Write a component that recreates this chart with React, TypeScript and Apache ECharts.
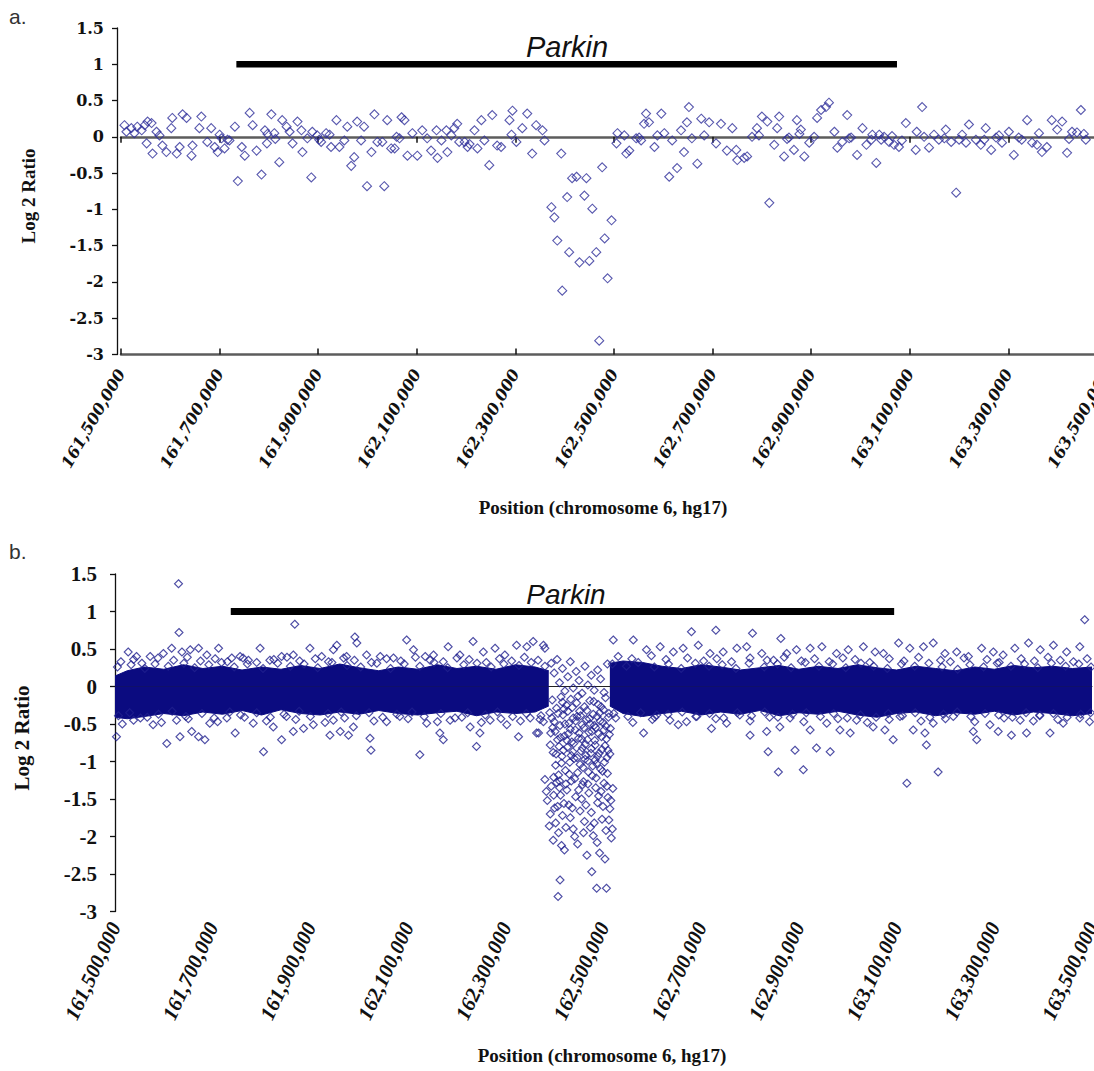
import React, { useEffect, useRef } from "react";
import * as echarts from "echarts";

// Positions are in kb on chromosome 6 (hg17); values are log2 ratios.
const X_MIN = 161500;
const X_MAX = 163500;
const X_STEP = 200;
const Y_MIN = -3;
const Y_MAX = 1.5;
const Y_STEP = 0.5;

// Parkin gene span as drawn in each panel
const parkinSpanA = [161734, 163074];
const parkinSpanB = [161737, 163095];
const parkinLevel = 1.0;

// Panel a probes
const panelAPoints: [number, number][] = [
  [161507,0.16],[161511,0.07],[161521,0.12],[161527,0.05],[161533,0.14],[161542,0.09],[161548,0.16],[161554,0.21],[161562,0.19],[161552,-0.09],[161564,-0.23],[161572,0.07],[161578,0.02],[161584,-0.12],[161592,-0.21],[161602,0.12],[161604,0.26],[161613,-0.23],[161619,-0.14],[161625,0.31],[161633,0.26],[161643,-0.26],[161645,-0.12],[161659,0.12],[161663,0.28],[161675,-0.07],[161683,0.12],[161690,-0.14],[161696,-0.21],[161704,-0.02],[161710,-0.16],[161720,-0.05],[161731,0.14],[161737,-0.61],[161745,-0.14],[161751,-0.26],[161761,0.33],[161767,0.16],[161775,-0.19],[161785,-0.52],[161792,0.09],[161796,-0.09],[161805,0.31],[161811,0.05],[161821,-0.35],[161827,0.23],[161836,0.14],[161842,0.07],[161848,-0.09],[161858,0.21],[161866,0.09],[161868,-0.21],[161878,-0.02],[161886,-0.56],[161888,0.07],[161898,0.02],[161906,-0.07],[161916,0.05],[161926,-0.14],[161937,0.23],[161943,-0.14],[161953,-0.05],[161959,0.14],[161967,-0.40],[161973,-0.28],[161979,0.21],[161987,-0.05],[161993,0.14],[161999,-0.68],[162008,-0.21],[162014,0.31],[162020,-0.07],[162034,-0.68],[162040,0.23],[162048,-0.16],[162059,0.00],
  [162030,-0.07],[162055,-0.16],[162069,0.27],[162075,0.23],[162081,-0.26],[162091,0.05],[162101,-0.26],[162111,0.09],[162121,-0.02],[162129,-0.19],[162140,0.09],[162142,-0.29],[162150,-0.05],[162160,0.09],[162162,-0.21],[162176,0.12],[162182,0.18],[162186,-0.07],[162197,-0.07],[162203,-0.14],[162217,0.09],[162223,-0.16],[162231,0.23],[162237,-0.05],[162247,-0.39],[162253,0.30],[162263,-0.12],[162271,-0.14],[162288,0.23],[162294,0.36],[162302,-0.07],[162314,0.12],[162324,0.32],[162334,-0.23],[162342,0.16],[162355,0.09],[162359,-0.05],[162393,-0.23],[162373,-0.97],[162379,-1.11],[162385,-1.43],[162395,-2.12],[162405,-0.83],[162409,-1.59],[162415,-0.57],[162424,-0.55],[162430,-1.73],[162440,-0.81],[162444,-0.57],[162450,-1.71],[162456,-0.99],[162464,-1.59],[162470,-2.81],[162476,-0.42],[162481,-1.40],[162487,-1.95],[162495,-1.15],[162505,-0.09],[162507,0.05],[162521,0.02],[162525,-0.23],[162531,-0.19],[162545,-0.02],[162555,-0.05],[162561,0.18],[162565,0.32],[162571,0.20],[162582,-0.14],[162588,0.02],[162596,0.32],[162602,0.05],[162612,-0.55],[162618,-0.05],[162628,-0.43],[162636,0.09],[162642,-0.21],[162648,0.20],[162652,0.41],[162658,-0.02],[162669,-0.37],[162677,0.25],[162683,0.02],[162693,0.20],[162707,-0.09],[162717,0.18],[162729,-0.19],[162740,0.12],[162750,-0.32],
  [162748,-0.18],[162764,-0.29],[162770,-0.27],[162780,0.00],[162790,0.12],[162800,0.28],[162811,0.21],[162815,-0.91],[162825,-0.11],[162831,0.12],[162835,0.28],[162845,-0.27],[162855,-0.01],[162865,-0.18],[162871,0.23],[162879,0.10],[162886,-0.27],[162896,-0.08],[162906,0.00],[162912,0.26],[162920,0.37],[162930,0.41],[162936,0.47],[162947,0.07],[162953,-0.15],[162963,-0.07],[162973,0.30],[162981,-0.01],[162993,-0.25],[163004,0.12],[163012,-0.11],[163022,-0.04],[163032,-0.36],[163038,0.03],[163048,0.00],[163058,-0.07],[163068,-0.11],[163078,-0.14],[163092,0.19],[163112,-0.18],[163114,0.07],[163125,0.41],[163139,-0.15],[163149,0.03],[163159,-0.04],[163173,0.10],[163184,-0.07],[163194,-0.77],[163200,-0.04],[163214,-0.08],[163220,0.17],[163234,-0.04],[163244,-0.11],[163254,0.12],[163265,-0.18],[163275,-0.01],[163287,-0.08],[163301,0.07],[163311,-0.25],[163321,-0.01],[163327,-0.04],[163338,0.23],[163348,-0.08],[163358,-0.11],[163368,-0.21],[163378,-0.14],[163388,0.23],[163399,0.10],[163409,0.21],[163419,-0.22],[163429,0.07],[163439,0.06],[163447,0.37],[163457,-0.04],
  [162794,0.02],[162851,-0.03],[162876,0.04],[162977,-0.02],[163024,0.03],[163042,-0.04],[163064,0.01],[163084,-0.05],[163129,0.00],[163170,-0.02],[163206,0.03],[163251,-0.04],[163281,0.02],[163362,0.05],[163423,-0.03],[163453,0.04],
  [161700,0.03],[161716,-0.04],[161797,0.04],[161813,-0.03],[161902,-0.04],[161923,0.03],[162065,-0.02],[162170,0.02],[162207,-0.10],[162292,0.03],[162551,-0.01]
];

// Panel b: dense core envelope (left and right of the deletion)
const bandLeftPos = [161500,161525,161560,161600,161640,161680,161720,161760,161800,161840,161880,161920,161960,162000,162040,162080,162120,162160,162200,162240,162280,162320,162360,162388];
const bandLeftTop = [0.14,0.21,0.26,0.23,0.29,0.24,0.27,0.22,0.26,0.23,0.28,0.24,0.30,0.25,0.21,0.26,0.23,0.29,0.24,0.27,0.23,0.29,0.26,0.21];
const bandLeftBottom = [-0.41,-0.43,-0.40,-0.36,-0.39,-0.34,-0.37,-0.32,-0.38,-0.31,-0.36,-0.38,-0.34,-0.37,-0.32,-0.36,-0.38,-0.35,-0.33,-0.39,-0.34,-0.36,-0.34,-0.26];
const bandRightPos = [162513,162540,162580,162620,162660,162700,162740,162780,162820,162860,162900,162940,162980,163020,163060,163100,163140,163180,163220,163260,163300,163340,163380,163420,163460,163500];
const bandRightTop = [0.31,0.34,0.32,0.27,0.24,0.29,0.26,0.22,0.25,0.28,0.23,0.27,0.24,0.29,0.25,0.22,0.27,0.24,0.21,0.26,0.23,0.28,0.25,0.27,0.24,0.26];
const bandRightBottom = [-0.26,-0.36,-0.40,-0.36,-0.33,-0.38,-0.34,-0.37,-0.32,-0.39,-0.35,-0.37,-0.33,-0.38,-0.41,-0.36,-0.34,-0.39,-0.35,-0.37,-0.33,-0.38,-0.34,-0.36,-0.39,-0.36];

// Panel b: individually visible probes (fringe, outliers, deletion)
const panelBFringeLeft: [number, number][] = [
  [161630,1.37],[161631,0.72],[161868,0.83],
  [161527,0.46],[161544,0.40],[161572,0.40],[161599,0.44],[161616,0.51],[161637,0.46],[161654,0.49],[161671,0.51],[161688,0.42],[161712,0.51],[161739,0.38],[161756,0.40],[161773,0.35],[161797,0.51],[161817,0.35],[161841,0.40],[161865,0.42],[161899,0.51],[161923,0.40],[161947,0.49],[161954,0.55],[161974,0.40],[161991,0.66],[161995,0.58],[162015,0.42],[162043,0.40],[162070,0.38],[162097,0.62],[162111,0.49],[162135,0.40],[162152,0.42],[162182,0.53],[162206,0.42],[162233,0.60],[162254,0.46],[162278,0.51],[162298,0.42],[162322,0.55],[162343,0.53],[162356,0.60],[162380,0.51],
  [161503,-0.67],[161606,-0.76],[161633,-0.67],[161657,-0.60],[161671,-0.67],[161684,-0.71],[161746,-0.62],[161804,-0.87],[161841,-0.71],[161865,-0.60],[161886,-0.56],[161940,-0.65],[161961,-0.60],[161978,-0.65],[162022,-0.69],[162024,-0.85],[162124,-0.91],[162165,-0.62],[162172,-0.71],[162240,-0.80],[162247,-0.62],[162326,-0.67],[162367,-0.62],
  [161538,-0.45],[161578,-0.51],[161626,-0.45],[161694,-0.49],[161729,-0.42],[161783,-0.49],[161824,-0.54],[161851,-0.40],[161906,-0.51],[161947,-0.45],[161988,-0.54],[162056,-0.47],[162083,-0.40],[162138,-0.49],[162186,-0.45],[162227,-0.54],[162268,-0.45],[162302,-0.51],[162350,-0.42],[162377,-0.47],
  [161515,-0.50],[161552,-0.42],[161595,-0.48],[161650,-0.43],[161710,-0.47],[161765,-0.41],[161810,-0.46],[161870,-0.44],[161930,-0.48],[161970,-0.42],[162030,-0.46],[162100,-0.43],[162160,-0.47],[162210,-0.41],[162250,-0.48],[162290,-0.43],[162330,-0.46],[162370,-0.44],
  [161512,0.33],[161538,0.36],[161555,0.31],[161588,0.38],[161620,0.35],[161648,0.39],[161675,0.34],[161705,0.37],[161730,0.33],[161762,0.38],[161790,0.32],[161825,0.36],[161852,0.39],[161878,0.34],[161910,0.37],[161937,0.33],[161968,0.38],[161990,0.35],[162025,0.32],[162056,0.37],[162085,0.34],[162115,0.39],[162145,0.35],[162172,0.33],[162200,0.38],[162225,0.36],[162260,0.32],[162287,0.37],[162312,0.34],[162338,0.39],[162366,0.35]
];

const panelBEdgeLeft: [number, number][] = [
  [161505,0.26],[161533,0.29],[161561,0.24],[161582,0.30],[161609,0.27],[161641,0.31],[161663,0.25],[161692,0.29],[161718,0.32],[161744,0.26],[161771,0.30],[161803,0.24],[161833,0.31],[161859,0.27],[161887,0.30],[161915,0.25],[161944,0.32],[161975,0.28],[162003,0.26],[162036,0.31],[162064,0.24],[162092,0.30],[162124,0.27],[162153,0.32],[162181,0.25],[162214,0.29],[162241,0.31],[162270,0.26],[162296,0.30],[162327,0.28],[162352,0.32],[162380,0.27],
  [161507,-0.39],[161530,-0.35],[161566,-0.41],[161589,-0.37],[161617,-0.33],[161645,-0.40],[161678,-0.36],[161703,-0.42],[161735,-0.34],[161757,-0.38],[161790,-0.35],[161818,-0.41],[161846,-0.37],[161877,-0.33],[161900,-0.40],[161936,-0.36],[161963,-0.34],[161994,-0.39],[162020,-0.35],[162048,-0.41],[162077,-0.37],[162108,-0.34],[162133,-0.40],[162167,-0.36],[162196,-0.42],[162222,-0.35],[162258,-0.38],[162283,-0.34],[162314,-0.40],[162342,-0.36],[162372,-0.39]
];

const panelBDeletion: [number, number][] = [
  [162393,0.31],[162399,0.18],[162405,0.36],[162410,0.05],[162416,0.24],[162421,-0.06],[162427,0.13],[162432,0.33],[162438,-0.02],[162444,0.20],[162450,0.08],[162456,-0.09],[162462,0.27],[162468,0.02],[162475,0.15],[162481,-0.05],[162488,0.22],[162494,0.10],[162501,-0.08],[162508,0.30],
  [162390,-0.35],[162392,-0.62],[162395,-0.18],[162397,-0.88],[162399,-0.47],[162402,-1.05],[162404,-0.29],[162406,-0.71],[162408,-1.18],[162411,-0.52],[162413,-0.14],[162415,-0.93],[162417,-0.38],[162420,-0.66],[162422,-1.12],[162424,-0.25],[162426,-0.81],[162429,-0.49],[162431,-1.01],[162433,-0.17],[162435,-0.74],[162438,-0.42],[162440,-0.96],[162442,-0.58],[162445,-0.22],[162447,-1.15],[162449,-0.69],[162451,-0.33],[162454,-0.86],[162456,-0.51],[162458,-1.08],[162461,-0.27],[162463,-0.77],[162465,-0.44],[162468,-0.99],[162470,-0.61],[162472,-0.19],[162475,-0.83],[162477,-1.19],[162479,-0.37],[162482,-0.72],[162484,-0.55],[162486,-1.03],[162489,-0.24],[162491,-0.89],[162493,-0.46],[162496,-0.67],[162498,-1.13],[162500,-0.31],[162503,-0.79],[162505,-0.53],[162507,-0.95],[162510,-0.41],[162512,-0.64],[162396,-0.55],[162409,-0.80],[162419,-0.30],[162428,-0.63],[162437,-0.87],[162446,-0.40],[162455,-0.70],[162464,-0.92],[162473,-0.50],[162483,-0.98],[162492,-0.35],[162501,-0.58],[162509,-0.85],
  [162391,-0.78],[162394,-0.42],[162398,-1.21],[162401,-0.60],[162403,-0.90],[162407,-0.36],[162410,-1.26],[162412,-0.68],[162414,-1.02],[162416,-0.21],[162418,-0.85],[162421,-0.50],[162423,-1.30],[162425,-0.72],[162427,-0.33],[162430,-1.17],[162432,-0.57],[162434,-0.92],[162436,-0.28],[162439,-0.76],[162441,-1.23],[162443,-0.46],[162446,-0.95],[162448,-0.13],[162450,-0.62],[162452,-1.04],[162453,-0.39],[162457,-0.82],[162459,-1.27],[162460,-0.55],[162462,-0.97],[162466,-0.32],[162467,-0.71],[162469,-1.14],[162471,-0.43],[162474,-0.89],[162476,-0.60],[162478,-1.06],[162480,-0.20],[162481,-0.52],[162483,-0.78],[162485,-1.22],[162487,-0.40],[162488,-0.93],[162490,-0.63],[162494,-1.10],[162495,-0.27],[162497,-0.84],[162499,-0.48],[162502,-1.01],[162504,-0.15],[162506,-0.70],[162508,-1.16],[162511,-0.36],[162513,-0.90],[162514,-0.56],
  [162380,-1.24],[162385,-1.52],[162389,-1.86],[162393,-1.33],[162397,-2.05],[162400,-1.62],[162404,-1.28],[162408,-1.95],[162412,-1.45],[162416,-1.72],[162420,-2.18],[162425,-1.38],[162429,-1.58],[162434,-1.26],[162438,-1.90],[162443,-1.47],[162447,-2.10],[162452,-1.66],[162457,-1.31],[162461,-1.80],[162466,-2.25],[162470,-1.42],[162475,-1.68],[162479,-1.99],[162484,-1.35],[162488,-1.55],[162492,-2.22],[162497,-1.77],[162501,-1.29],[162505,-1.92],[162509,-1.48],[162513,-1.63],[162516,-2.02],[162519,-1.36],[162406,-1.60],[162432,-1.75],[162455,-1.50],[162473,-1.88],[162495,-1.40],[162503,-2.30],
  [162383,-1.40],[162391,-1.70],[162398,-1.45],[162402,-1.82],[162410,-1.35],[162414,-2.12],[162419,-1.56],[162423,-1.88],[162436,-1.62],[162441,-2.00],[162449,-1.38],[162459,-1.95],[162464,-1.58],[162468,-1.30],[162481,-1.82],[162487,-2.08],[162490,-1.46],[162499,-1.60],[162507,-1.33],[162511,-1.78],[162515,-1.52],[162518,-1.90],
  [162411,-2.58],[162407,-2.80],[162486,-2.69],[162506,-2.69],[162476,-2.47],
  [162363,-0.62],[162377,0.55],[162561,0.62],[162520,0.62]
];

const panelBFringeRight: [number, number][] = [
  [162680,0.73],[162730,0.75],[162805,0.71],[162863,0.64],
  [162588,0.49],[162616,0.53],[162643,0.46],[162663,0.51],[162694,0.55],[162718,0.44],[162745,0.46],[162773,0.51],[162793,0.53],[162824,0.44],[162848,0.35],[162875,0.44],[162895,0.49],[162923,0.51],[162947,0.53],[162977,0.44],[163001,0.49],[163032,0.53],[163056,0.46],[163073,0.44],[163104,0.58],[163127,0.51],[163155,0.53],[163175,0.58],[163199,0.44],[163223,0.46],[163247,0.40],[163274,0.51],[163298,0.46],[163318,0.42],[163342,0.51],[163370,0.58],[163394,0.49],[163421,0.55],[163448,0.46],[163475,0.53],[163485,0.89],
  [162582,-0.62],[162653,-0.51],[162721,-0.56],[162800,-0.65],[162834,-0.60],[162837,-0.87],[162858,-1.14],[162892,-0.85],[162909,-1.11],[162923,-0.58],[162936,-0.82],[162964,-0.87],[162984,-0.58],[163005,-0.62],[163076,-0.58],[163093,-0.71],[163121,-1.29],[163134,-0.58],[163158,-0.62],[163161,-0.78],[163185,-1.14],[163257,-0.60],[163264,-0.71],[163308,-0.60],[163335,-0.65],[163366,-0.62],[163414,-0.62],
  [162609,-0.38],[162636,-0.45],[162691,-0.40],[162752,-0.49],[162779,-0.38],[162861,-0.54],[162882,-0.42],[162957,-0.49],[163018,-0.45],[163052,-0.54],[163107,-0.40],[163175,-0.49],[163216,-0.40],[163291,-0.51],[163353,-0.45],[163393,-0.38],[163441,-0.49],[163475,-0.42],
  [162525,-0.42],[162560,-0.48],[162600,-0.44],[162670,-0.47],[162730,-0.43],[162800,-0.46],[162840,-0.41],[162910,-0.47],[162980,-0.43],[163040,-0.48],[163085,-0.44],[163150,-0.46],[163200,-0.43],[163260,-0.47],[163320,-0.42],[163380,-0.46],[163430,-0.44],[163495,-0.47],
  [162530,0.40],[162558,0.37],[162598,0.41],[162628,0.36],[162672,0.38],[162705,0.34],[162732,0.37],[162762,0.33],[162800,0.38],[162835,0.35],[162870,0.39],[162905,0.34],[162932,0.37],[162962,0.33],[162990,0.38],[163015,0.36],[163045,0.32],[163085,0.37],[163115,0.34],[163145,0.39],[163190,0.35],[163210,0.33],[163238,0.38],[163285,0.36],[163310,0.32],[163355,0.37],[163382,0.34],[163410,0.39],[163435,0.35],[163462,0.33],[163490,0.37]
];

const panelBEdgeRight: [number, number][] = [
  [162518,0.30],[162547,0.27],[162571,0.32],[162604,0.26],[162633,0.30],[162659,0.24],[162688,0.31],[162716,0.27],[162743,0.29],[162771,0.24],[162798,0.31],[162829,0.26],[162856,0.30],[162884,0.25],[162913,0.32],[162941,0.27],[162969,0.30],[162996,0.25],[163027,0.31],[163053,0.27],[163081,0.24],[163110,0.30],[163137,0.27],[163166,0.31],[163193,0.26],[163225,0.23],[163250,0.29],[163278,0.26],[163306,0.31],[163334,0.27],[163362,0.30],[163389,0.25],[163417,0.31],[163446,0.27],[163473,0.30],[163498,0.26],
  [162521,-0.36],[162550,-0.40],[162576,-0.35],[162605,-0.41],[162632,-0.37],[162661,-0.34],[162689,-0.40],[162717,-0.36],[162746,-0.42],[162774,-0.35],[162803,-0.39],[162830,-0.34],[162857,-0.41],[162887,-0.37],[162915,-0.35],[162944,-0.40],[162971,-0.36],[162999,-0.42],[163026,-0.38],[163058,-0.41],[163083,-0.36],[163112,-0.39],[163138,-0.35],[163168,-0.41],[163196,-0.37],[163224,-0.34],[163252,-0.40],[163281,-0.36],[163309,-0.38],[163337,-0.41],[163365,-0.35],[163393,-0.39],[163421,-0.36],[163449,-0.41],[163477,-0.37],[163497,-0.35]
];

const fmtPos = (v: number) => String(Math.round(v * 1000)).replace(/\B(?=(\d{3})+(?!\d))/g, ",");
const fmtY = (v: number) => String(v);

const CORE = "#0b0b80";
const EDGE_A = "#2e2e9a";
const EDGE_B = "#20208e";

function zip(xs: number[], ys: number[]): [number, number][] {
  return xs.map((x, i) => [x, ys[i]]);
}

function bandSeries(pos: number[], vals: number[]) {
  return {
    type: "line",
    xAxisIndex: 3,
    yAxisIndex: 1,
    data: zip(pos, vals),
    showSymbol: false,
    symbol: "none",
    silent: true,
    z: 1,
    lineStyle: { color: CORE, width: 1 },
    areaStyle: { color: CORE, opacity: 1, origin: "auto" },
  };
}

function buildOption() {
  const xBase = { type: "value", position: "bottom", min: X_MIN, max: X_MAX, interval: X_STEP, splitLine: { show: false } };
  return {
    animation: false,
    backgroundColor: "#ffffff",
    textStyle: { fontFamily: "Liberation Serif" },
    grid: [
      { left: 121, top: 28, width: 986, height: 326.5, containLabel: false, outerBoundsMode: "none" },
      { left: 115, top: 574, width: 977, height: 337.5, containLabel: false, outerBoundsMode: "none" },
    ],
    xAxis: [
      {
        ...xBase, gridIndex: 0,
        axisLine: { show: true, onZero: true, lineStyle: { color: "#5c5c5c", width: 2.5 } },
        axisTick: { show: true, inside: false, length: 6, lineStyle: { color: "#111", width: 1.5 } },
        axisLabel: { show: false },
      },
      {
        ...xBase, gridIndex: 0,
        axisLine: { show: true, onZero: true, lineStyle: { color: "#5c5c5c", width: 2.5 } },
        axisTick: { show: true, inside: true, length: 6, lineStyle: { color: "#111", width: 1.5 } },
        axisLabel: { show: false },
      },
      {
        ...xBase, gridIndex: 0,
        axisLine: { show: false, onZero: false },
        axisTick: { show: false },
        axisLabel: {
          show: true, rotate: 60, margin: 16, formatter: fmtPos, showMinLabel: true, showMaxLabel: true,
          fontFamily: "DejaVu Serif", fontWeight: "bold", fontStyle: "italic", fontSize: 16, color: "#111",
        },
      },
      {
        ...xBase, gridIndex: 1,
        axisLine: { show: true, onZero: true, lineStyle: { color: "#222", width: 1 } },
        axisTick: { show: false },
        axisLabel: { show: false },
      },
      {
        ...xBase, gridIndex: 1,
        axisLine: { show: false, onZero: false },
        axisTick: { show: false },
        axisLabel: {
          show: true, rotate: 65, margin: 12, formatter: fmtPos, showMinLabel: true, showMaxLabel: true,
          fontFamily: "Liberation Serif", fontWeight: "bold", fontStyle: "italic", fontSize: 21, color: "#111",
        },
      },
    ],
    yAxis: [
      {
        type: "value", gridIndex: 0, position: "left", min: Y_MIN, max: Y_MAX, interval: Y_STEP, offset: 4,
        splitLine: { show: false },
        axisLine: { show: true, onZero: false, lineStyle: { color: "#111", width: 1.3 } },
        axisTick: { show: true, length: 5, lineStyle: { color: "#111", width: 1.3 } },
        axisLabel: { margin: 13, formatter: fmtY, fontFamily: "DejaVu Serif", fontWeight: "bold", fontSize: 16, color: "#111" },
      },
      {
        type: "value", gridIndex: 1, position: "left", min: Y_MIN, max: Y_MAX, interval: Y_STEP,
        splitLine: { show: false },
        axisLine: { show: true, onZero: false, lineStyle: { color: "#111", width: 1.3 } },
        axisTick: { show: true, length: 5, lineStyle: { color: "#111", width: 1.3 } },
        axisLabel: { margin: 18, formatter: fmtY, fontFamily: "Liberation Serif", fontWeight: "bold", fontSize: 21, color: "#111" },
      },
    ],
    series: [
      {
        type: "scatter", xAxisIndex: 0, yAxisIndex: 0, data: panelAPoints, silent: true, z: 3,
        symbol: "diamond", symbolSize: 9,
        itemStyle: { color: "rgba(255,255,255,0)", borderColor: EDGE_A, borderWidth: 1.1 },
      },
      {
        type: "line", xAxisIndex: 0, yAxisIndex: 0, silent: true, z: 5, symbol: "none",
        data: [[parkinSpanA[0], parkinLevel], [parkinSpanA[1], parkinLevel]],
        lineStyle: { color: "#000", width: 6.5, cap: "butt" },
      },
      bandSeries(bandLeftPos, bandLeftTop),
      bandSeries(bandLeftPos, bandLeftBottom),
      bandSeries(bandRightPos, bandRightTop),
      bandSeries(bandRightPos, bandRightBottom),
      {
        type: "scatter", xAxisIndex: 3, yAxisIndex: 1, silent: true, z: 3,
        data: [...panelBEdgeLeft, ...panelBEdgeRight, ...panelBFringeLeft, ...panelBDeletion, ...panelBFringeRight],
        symbol: "diamond", symbolSize: 8,
        itemStyle: { color: "rgba(255,255,255,0)", borderColor: EDGE_B, borderWidth: 1.1 },
      },
      {
        type: "line", xAxisIndex: 3, yAxisIndex: 1, silent: true, z: 5, symbol: "none",
        data: [[parkinSpanB[0], parkinLevel], [parkinSpanB[1], parkinLevel]],
        lineStyle: { color: "#000", width: 7, cap: "butt" },
      },
    ],
    graphic: [
      { type: "text", left: 9, top: 6, style: { text: "a.", fontFamily: "Liberation Sans", fontSize: 21, fill: "#333" } },
      { type: "text", left: 9, top: 541, style: { text: "b.", fontFamily: "Liberation Sans", fontSize: 21, fill: "#333" } },
      {
        type: "text", x: 567, y: 47,
        style: { text: "Parkin", fontFamily: "Liberation Sans", fontStyle: "italic", fontSize: 29, fill: "#111", textAlign: "center", textVerticalAlign: "middle", align: "center", verticalAlign: "middle" },
      },
      {
        type: "text", x: 566, y: 594,
        style: { text: "Parkin", fontFamily: "Liberation Sans", fontStyle: "italic", fontSize: 28, fill: "#111", textAlign: "center", textVerticalAlign: "middle", align: "center", verticalAlign: "middle" },
      },
      {
        type: "text", x: 28, y: 196, rotation: Math.PI / 2,
        style: { text: "Log 2 Ratio", fontFamily: "Liberation Serif", fontWeight: "bold", fontSize: 19, fill: "#111", textAlign: "center", textVerticalAlign: "middle", align: "center", verticalAlign: "middle" },
      },
      {
        type: "text", x: 22, y: 738, rotation: Math.PI / 2,
        style: { text: "Log 2 Ratio", fontFamily: "Liberation Serif", fontWeight: "bold", fontSize: 21, fill: "#111", textAlign: "center", textVerticalAlign: "middle", align: "center", verticalAlign: "middle" },
      },
      {
        type: "text", x: 603, y: 507,
        style: { text: "Position (chromosome 6, hg17)", fontFamily: "Liberation Serif", fontWeight: "bold", fontSize: 19, fill: "#111", textAlign: "center", textVerticalAlign: "middle", align: "center", verticalAlign: "middle" },
      },
      {
        type: "text", x: 602, y: 1055,
        style: { text: "Position (chromosome 6, hg17)", fontFamily: "Liberation Serif", fontWeight: "bold", fontSize: 19, fill: "#111", textAlign: "center", textVerticalAlign: "middle", align: "center", verticalAlign: "middle" },
      },
    ],
  };
}

export default function App() {
  const ref = useRef<HTMLDivElement>(null);
  useEffect(() => {
    if (!ref.current) return;
    const chart = echarts.init(ref.current, null, { renderer: "svg" });
    chart.setOption(buildOption() as any);
    return () => chart.dispose();
  }, []);
  return (
    <div style={{ position: "absolute", left: 0, top: 0, width: 1094, height: 1071, overflow: "hidden", background: "#fff" }}>
      <div ref={ref} style={{ width: 1120, height: 1071 }} />
    </div>
  );
}
